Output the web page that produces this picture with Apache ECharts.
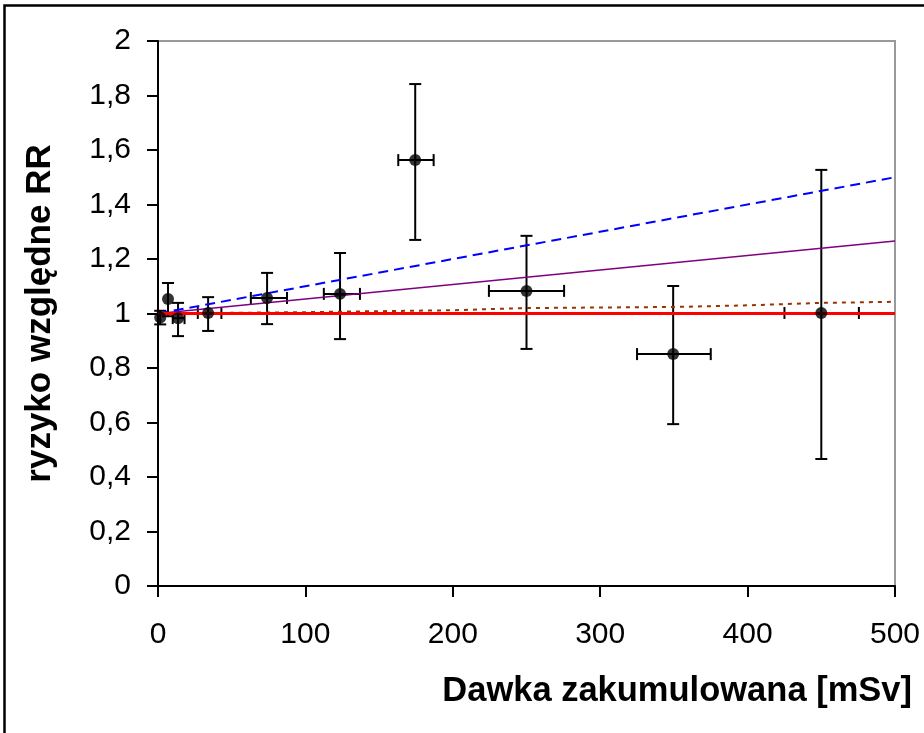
<!DOCTYPE html>
<html>
<head>
<meta charset="utf-8">
<script src="https://cdn.jsdelivr.net/npm/echarts@6/dist/echarts.min.js"></script>
<style>
  html, body { margin: 0; padding: 0; background: #fff; }
  #chart { width: 924px; height: 733px; }
</style>
</head>
<body>
<div id="chart"></div>
<script>
  // punkty pomiarowe: dawka [mSv], RR i przedziały ufności
  const dose     = [1.5, 6.8, 13.6, 34, 74, 123.5, 174.5, 250, 349.5, 450];
  const rr       = [0.985, 1.053, 0.983, 1.002, 1.057, 1.072, 1.563, 1.083, 0.851, 1.002];
  const rrLow    = [0.96, 0.99, 0.917, 0.936, 0.961, 0.906, 1.27, 0.87, 0.594, 0.466];
  const rrHigh   = [1.01, 1.112, 1.039, 1.06, 1.149, 1.222, 1.842, 1.285, 1.101, 1.527];
  const doseLow  = [1.5, 6.8, 10, 27, 63, 112.5, 163, 224.5, 325, 425];
  const doseHigh = [1.5, 6.8, 18, 43, 87.5, 137, 187, 275.5, 375, 475.5];

  // modele
  const lineDose   = [0, 500];
  const noRisk     = [1, 1];       // czerwona
  const linearHigh = [1, 1.5];     // niebieska przerywana
  const linearLow  = [1, 1.266];   // fioletowa
  const curveDose  = [0, 100, 200, 250, 300, 350, 400, 450, 500];
  const curveRR    = [1, 1.005, 1.012, 1.02, 1.022, 1.024, 1.03, 1.039, 1.043]; // brązowa kropkowana

  const yTicks = [0, 0.2, 0.4, 0.6, 0.8, 1, 1.2, 1.4, 1.6, 1.8, 2];
  const xTicks = [0, 100, 200, 300, 400, 500];

  const font = 'Liberation Sans, Arial, sans-serif';
  const pair = (xs, ys) => xs.map((x, i) => [x, ys[i]]);

  let myChart = echarts.init(document.getElementById('chart'));

  myChart.setOption({
    animation: false,
    backgroundColor: '#fff',
    title: {
      text: 'Dawka zakumulowana [mSv]',
      right: 12,
      top: 674,
      padding: 0,
      textStyle: { fontFamily: font, fontSize: 34.5, fontWeight: 'bold', color: '#000' }
    },
    graphic: [{
      type: 'rect',
      shape: { x: 4.5, y: 5.5, width: 1000, height: 1000 },
      style: { fill: 'none', stroke: '#000', lineWidth: 2.5 },
      silent: true
    }],
    grid: {
      left: 158, right: 29, top: 41, bottom: 147,
      show: true, borderColor: '#999', borderWidth: 2
    },
    xAxis: {
      type: 'value',
      min: xTicks[0], max: xTicks[xTicks.length - 1], interval: 100,
      axisLine: { lineStyle: { color: '#000', width: 2 } },
      axisTick: { show: true, inside: false, length: 11, lineStyle: { color: '#000', width: 2 } },
      axisLabel: { fontFamily: font, fontSize: 30, color: '#000', margin: 34 },
      splitLine: { show: false }
    },
    yAxis: {
      type: 'value',
      min: yTicks[0], max: yTicks[yTicks.length - 1], interval: 0.2,
      name: 'ryzyko względne RR',
      nameLocation: 'middle',
      nameGap: 100,
      nameTextStyle: { fontFamily: font, fontSize: 35, fontWeight: 'bold', color: '#000' },
      axisLine: { show: true, lineStyle: { color: '#000', width: 2 } },
      axisTick: { show: true, inside: false, length: 11, lineStyle: { color: '#000', width: 2 } },
      axisLabel: {
        fontFamily: font, fontSize: 30, color: '#000', margin: 27,
        formatter: v => String(Math.round(v * 10) / 10).replace('.', ',')
      },
      splitLine: { show: false }
    },
    series: [
      {
        // słupki błędów
        type: 'custom',
        z: 1,
        data: dose.map((d, i) => [d, rr[i], rrLow[i], rrHigh[i], doseLow[i], doseHigh[i]]),
        encode: { x: 0, y: 1 },
        renderItem: function (params, api) {
          const x = api.value(0), y = api.value(1);
          const top = api.coord([x, api.value(3)]);
          const bot = api.coord([x, api.value(2)]);
          const left = api.coord([api.value(4), y]);
          const right = api.coord([api.value(5), y]);
          const cap = 6;
          const st = { stroke: '#000', lineWidth: 2 };
          const kids = [
            { type: 'line', shape: { x1: top[0], y1: top[1], x2: bot[0], y2: bot[1] }, style: st },
            { type: 'line', shape: { x1: top[0] - cap, y1: top[1], x2: top[0] + cap, y2: top[1] }, style: st },
            { type: 'line', shape: { x1: bot[0] - cap, y1: bot[1], x2: bot[0] + cap, y2: bot[1] }, style: st }
          ];
          if (right[0] - left[0] > 2) {
            kids.push(
              { type: 'line', shape: { x1: left[0], y1: left[1], x2: right[0], y2: right[1] }, style: st },
              { type: 'line', shape: { x1: left[0], y1: left[1] - cap, x2: left[0], y2: left[1] + cap }, style: st },
              { type: 'line', shape: { x1: right[0], y1: right[1] - cap, x2: right[0], y2: right[1] + cap }, style: st }
            );
          }
          return { type: 'group', children: kids };
        }
      },
      {
        type: 'line', z: 2, symbol: 'none', data: pair(curveDose, curveRR),
        lineStyle: { color: '#993300', width: 2, type: [4, 5] }
      },
      {
        type: 'line', z: 2, symbol: 'none', data: pair(lineDose, linearLow),
        lineStyle: { color: '#800080', width: 1.5 }
      },
      {
        type: 'line', z: 2, symbol: 'none', data: pair(lineDose, linearHigh),
        lineStyle: { color: '#0000ff', width: 2, type: [10, 6] }
      },
      {
        type: 'line', z: 3, symbol: 'none', data: pair(lineDose, noRisk),
        lineStyle: { color: '#ff0000', width: 3 }
      },
      {
        type: 'scatter', z: 4, symbol: 'circle', symbolSize: 12,
        data: pair(dose, rr),
        itemStyle: { color: '#000' }
      }
    ]
  });
</script>
</body>
</html>
